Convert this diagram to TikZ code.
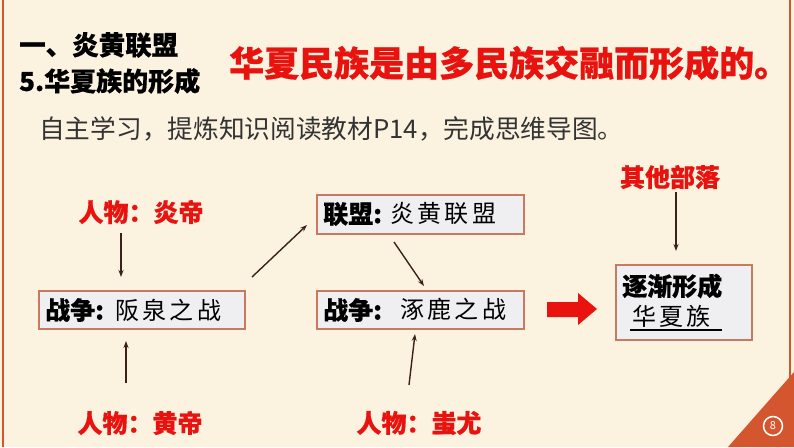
\documentclass[tikz,border=0pt]{standalone}
\usepackage{fontspec}
\setmainfont{Noto Sans CJK SC}
\newfontfamily\heavyfont[BoldFeatures={FakeBold=0.6}]{Noto Sans CJK SC}
\newfontfamily\handfont[LetterSpace=14]{Noto Sans CJK SC}
\usetikzlibrary{arrows.meta}
\definecolor{bgcream}{HTML}{FCF2E0}
\definecolor{edgered}{HTML}{D4562E}
\definecolor{titlered}{HTML}{E8130F}
\definecolor{boxfill}{HTML}{EFEFF1}
\definecolor{boxline}{HTML}{C77A62}
\definecolor{arrowbrown}{HTML}{3B211C}
\definecolor{textgray}{HTML}{333333}
\tikzset{
  boxnode/.style={draw=boxline, line width=1.6pt, fill=boxfill, inner sep=0pt, anchor=north west},
  boldlbl/.style={font=\fontsize{25}{25}\selectfont\heavyfont\bfseries, text=black, inner sep=0pt},
  handlbl/.style={font=\fontsize{24}{24}\selectfont\handfont, text=black, inner sep=0pt},
  redlbl/.style={font=\fontsize{25}{25}\selectfont\heavyfont\bfseries, text=titlered, inner sep=0pt},
  conn/.style={draw=arrowbrown, line width=1.4pt, -{Stealth[length=7pt,width=5pt]}},
}
\begin{document}
\begin{tikzpicture}[x=1pt,y=-1pt]
\useasboundingbox (0,0) rectangle (794,447);
\fill[bgcream] (0,0) rectangle (794,447);
% frame lines
\draw[edgered, line width=2pt] (3,0) -- (3,447);
\draw[edgered, line width=2pt] (790,0) -- (790,380);
\fill[edgered] (794,372) -- (794,447) -- (728,447) -- cycle;
\node[circle, draw=white, line width=1.5pt, minimum size=19pt, inner sep=0pt, text=white, font=\fontsize{11}{11}\selectfont] (pg) at (773,426) {8};

% titles
\node[anchor=west, inner sep=0pt, font=\fontsize{26.5}{26.5}\selectfont\heavyfont\bfseries] (t1) at (19,45) {一、炎黄联盟};
\node[anchor=west, inner sep=0pt, font=\fontsize{26}{26}\selectfont\heavyfont\bfseries] (t2) at (19,81) {5.华夏族的形成};
\node[anchor=west, inner sep=0pt, text=titlered, font=\fontsize{35}{35}\selectfont\heavyfont\bfseries] (t3) at (229,63) {华夏民族是由多民族交融而形成的。};
\node[anchor=west, inner sep=0pt, text=textgray, font=\fontsize{25.7}{25.7}\selectfont] (t4) at (39,129) {自主学习，提炼知识阅读教材P14，完成思维导图。};

% boxes
\node[boxnode, minimum width=206pt, minimum height=38pt] (bA) at (38,290) {};
\node[boldlbl, anchor=west] (bAl) at (45,310) {战争:};
\node[handlbl, anchor=west] (bAh) at (115,310) {阪泉之战};

\node[boxnode, minimum width=207pt, minimum height=39pt] (bB) at (316,194) {};
\node[boldlbl, anchor=west] (bBl) at (323,214) {联盟:};
\node[handlbl, anchor=west] (bBh) at (390,213) {炎黄联盟};

\node[boxnode, minimum width=207pt, minimum height=38pt] (bC) at (316,290) {};
\node[boldlbl, anchor=west] (bCl) at (323,310) {战争:};
\node[handlbl, anchor=west] (bCh) at (400,309) {涿鹿之战};

\node[boxnode, minimum width=136pt, minimum height=75pt] (bD) at (615,264) {};
\node[boldlbl, anchor=west] (bDl) at (622,286) {逐渐形成};
\node[handlbl, anchor=west] (bDh) at (632,316) {华夏族};
\coordinate (ulA) at (630,330);
\coordinate (ulB) at (722,330);
\draw[black, line width=1.2pt] (ulA) -- (ulB);

% red labels
\node[redlbl] (pY) at (141,212) {人物：炎帝};
\node[redlbl] (pH) at (140,423) {人物：黄帝};
\node[redlbl] (pC) at (419,423) {人物：蚩尤};
\node[redlbl] (pO) at (670,177) {其他部落};

% connectors
\coordinate (a1s) at (121,233); \coordinate (a1e) at (121,277);
\draw[conn] (a1s) -- (a1e);
\coordinate (a2s) at (126,383); \coordinate (a2e) at (126,341);
\draw[conn] (a2s) -- (a2e);
\coordinate (a3s) at (409,385); \coordinate (a3e) at (415,334);
\draw[conn] (a3s) -- (a3e);
\coordinate (a4s) at (252,277); \coordinate (a4e) at (307,225);
\draw[conn] (a4s) -- (a4e);
\coordinate (a5s) at (394,242); \coordinate (a5e) at (424,286);
\draw[conn] (a5s) -- (a5e);
\coordinate (a6s) at (676,192); \coordinate (a6e) at (676,251);
\draw[conn] (a6s) -- (a6e);

% big red arrow
\fill[titlered] (547,302) -- (578,302) -- (578,293) -- (597,309) -- (578,325) -- (578,317) -- (547,317) -- cycle;
\end{tikzpicture}
\end{document}
